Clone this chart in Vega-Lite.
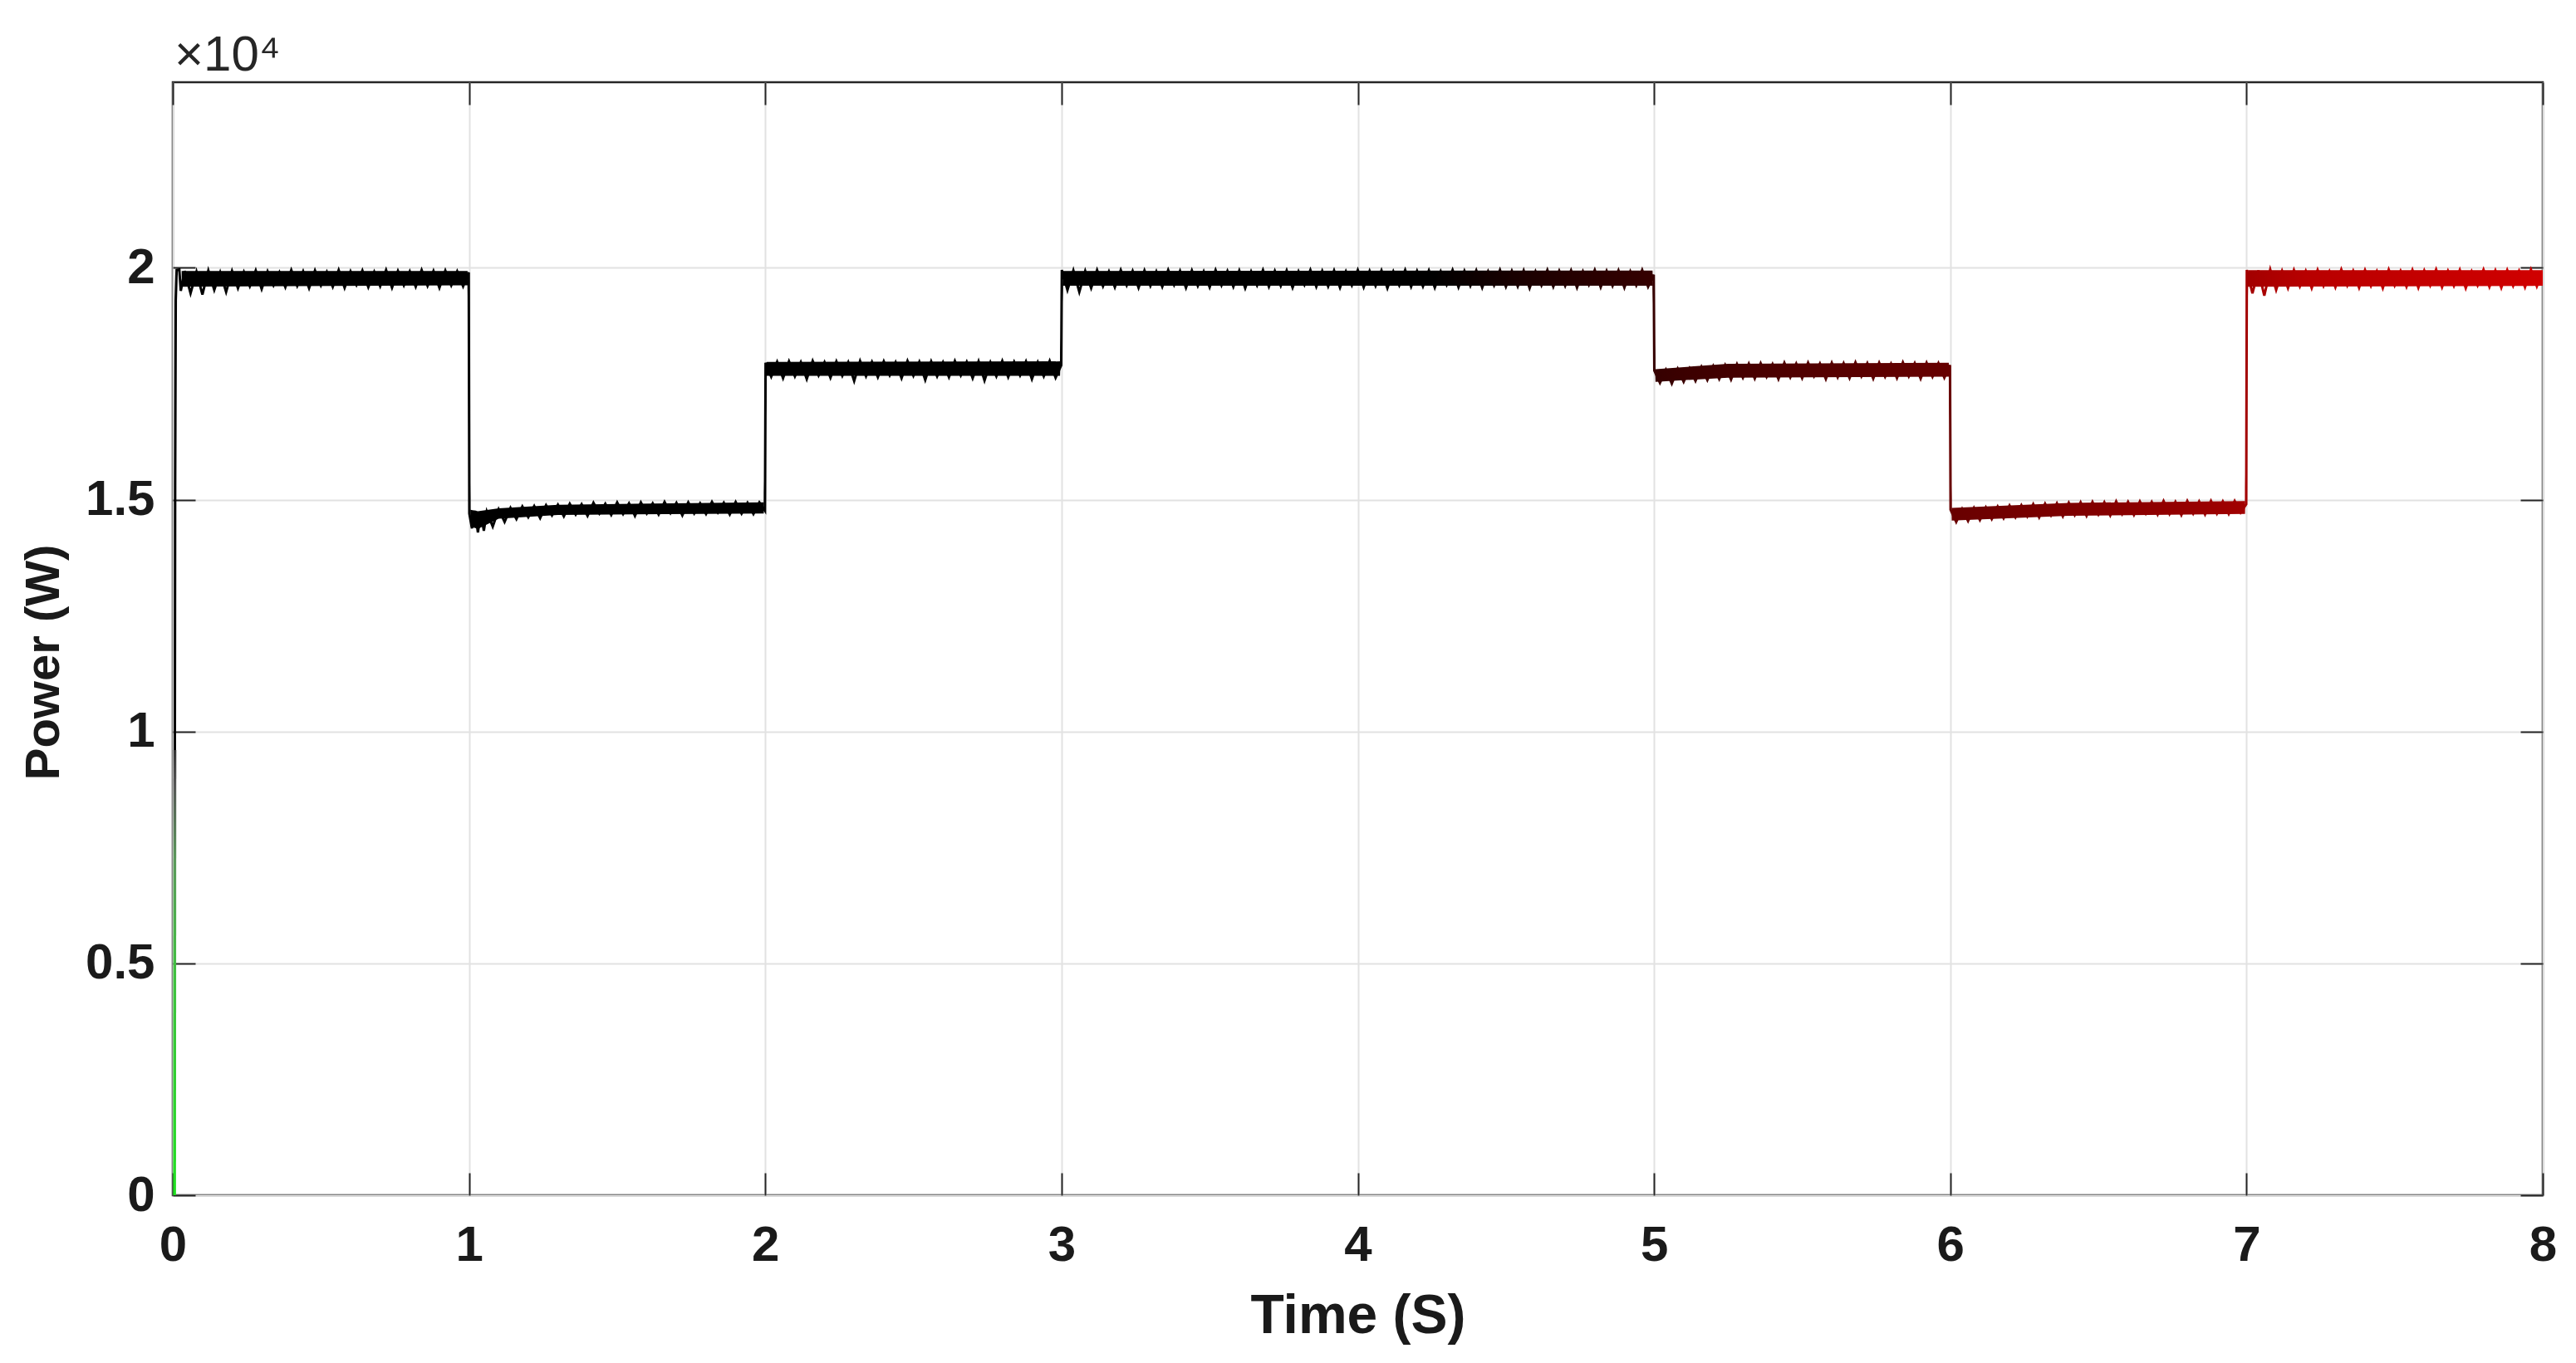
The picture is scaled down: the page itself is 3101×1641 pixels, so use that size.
{
  "$schema": "https://vega.github.io/schema/vega-lite/v6.json",
  "width": 2853,
  "height": 1340,
  "autosize": {"type": "none"},
  "padding": {"left": 208, "top": 99, "right": 40, "bottom": 202},
  "background": "white",
  "config": {
    "view": {"stroke": "#262626", "strokeWidth": 2.5},
    "axis": {
      "labelFont": "Liberation Sans",
      "titleFont": "Liberation Sans",
      "labelFontSize": 60,
      "labelFontWeight": "bold",
      "labelColor": "#1a1a1a",
      "titleFontSize": 66,
      "titleFontWeight": "bold",
      "titleColor": "#1a1a1a",
      "tickColor": "#262626",
      "tickWidth": 2,
      "gridColor": "#e2e2e2",
      "gridWidth": 2,
      "domain": false,
      "labelFlush": false,
      "labelOverlap": false
    }
  },
  "title": {
    "text": "×10⁴",
    "anchor": "start",
    "frame": "group",
    "font": "Liberation Sans",
    "fontSize": 60,
    "fontWeight": "normal",
    "color": "#262626",
    "baseline": "alphabetic",
    "offset": -47,
    "dx": 2
  },
  "datasets": {
    "init": [
      {"t": 0.006, "p": 0},
      {"t": 0.007, "p": 9600}
    ],
    "band": [
      {"t": 0.03, "lo": 19590, "hi": 19930},
      {"t": 0.995, "lo": 19620, "hi": 19930},
      {"t": 1.005, "lo": 14420, "hi": 14780},
      {"t": 1.03, "lo": 14370, "hi": 14750},
      {"t": 1.1, "lo": 14590, "hi": 14810},
      {"t": 1.3, "lo": 14670, "hi": 14890},
      {"t": 1.995, "lo": 14700, "hi": 14940},
      {"t": 2.005, "lo": 17670, "hi": 17970},
      {"t": 2.995, "lo": 17670, "hi": 17980},
      {"t": 3.005, "lo": 19610, "hi": 19930},
      {"t": 4.995, "lo": 19610, "hi": 19940},
      {"t": 5.005, "lo": 17540, "hi": 17810},
      {"t": 5.25, "lo": 17630, "hi": 17930},
      {"t": 5.995, "lo": 17650, "hi": 17950},
      {"t": 6.005, "lo": 14550, "hi": 14820},
      {"t": 6.4, "lo": 14650, "hi": 14930},
      {"t": 6.995, "lo": 14690, "hi": 14970},
      {"t": 7.005, "lo": 19590, "hi": 19950},
      {"t": 8.0, "lo": 19610, "hi": 19950}
    ],
    "sig": [
      {"t": 0.007, "p": 9600}, {"t": 0.008, "p": 15300}, {"t": 0.010, "p": 19300}, {"t": 0.013, "p": 19950}, {"t": 0.022, "p": 19960}, {"t": 0.027, "p": 19500},
      {"t": 0.04, "p": 19930}, {"t": 0.06, "p": 19450}, {"t": 0.08, "p": 19910}, {"t": 0.10, "p": 19420}, {"t": 0.12, "p": 19940}, {"t": 0.14, "p": 19520},
      {"t": 0.16, "p": 19900}, {"t": 0.18, "p": 19480}, {"t": 0.20, "p": 19930}, {"t": 0.22, "p": 19560}, {"t": 0.24, "p": 19910}, {"t": 0.26, "p": 19600},
      {"t": 0.28, "p": 19940}, {"t": 0.30, "p": 19540}, {"t": 0.32, "p": 19920}, {"t": 0.34, "p": 19620}, {"t": 0.36, "p": 19900}, {"t": 0.38, "p": 19580},
      {"t": 0.40, "p": 19950}, {"t": 0.42, "p": 19610}, {"t": 0.44, "p": 19920}, {"t": 0.46, "p": 19560}, {"t": 0.48, "p": 19940}, {"t": 0.50, "p": 19620},
      {"t": 0.52, "p": 19910}, {"t": 0.54, "p": 19590}, {"t": 0.56, "p": 19950}, {"t": 0.58, "p": 19570}, {"t": 0.60, "p": 19920}, {"t": 0.62, "p": 19630},
      {"t": 0.64, "p": 19940}, {"t": 0.66, "p": 19580}, {"t": 0.68, "p": 19910}, {"t": 0.70, "p": 19600}, {"t": 0.72, "p": 19950}, {"t": 0.74, "p": 19570},
      {"t": 0.76, "p": 19930}, {"t": 0.78, "p": 19620}, {"t": 0.80, "p": 19920}, {"t": 0.82, "p": 19590}, {"t": 0.84, "p": 19950}, {"t": 0.86, "p": 19610},
      {"t": 0.88, "p": 19930}, {"t": 0.90, "p": 19570}, {"t": 0.92, "p": 19940}, {"t": 0.94, "p": 19620}, {"t": 0.96, "p": 19920}, {"t": 0.98, "p": 19600},
      {"t": 0.999, "p": 19900}, {"t": 1.001, "p": 14700}, {"t": 1.01, "p": 14380}, {"t": 1.02, "p": 14760}, {"t": 1.03, "p": 14290}, {"t": 1.04, "p": 14720},
      {"t": 1.05, "p": 14330}, {"t": 1.06, "p": 14740}, {"t": 1.08, "p": 14420}, {"t": 1.10, "p": 14790}, {"t": 1.12, "p": 14520}, {"t": 1.14, "p": 14820},
      {"t": 1.16, "p": 14580}, {"t": 1.18, "p": 14850}, {"t": 1.20, "p": 14620}, {"t": 1.22, "p": 14860}, {"t": 1.24, "p": 14600}, {"t": 1.26, "p": 14880},
      {"t": 1.28, "p": 14660}, {"t": 1.30, "p": 14890}, {"t": 1.32, "p": 14640}, {"t": 1.34, "p": 14910}, {"t": 1.36, "p": 14680}, {"t": 1.38, "p": 14900},
      {"t": 1.40, "p": 14650}, {"t": 1.42, "p": 14930}, {"t": 1.44, "p": 14700}, {"t": 1.46, "p": 14910}, {"t": 1.48, "p": 14670}, {"t": 1.50, "p": 14940},
      {"t": 1.52, "p": 14690}, {"t": 1.54, "p": 14920}, {"t": 1.56, "p": 14650}, {"t": 1.58, "p": 14940}, {"t": 1.60, "p": 14700}, {"t": 1.62, "p": 14920},
      {"t": 1.64, "p": 14680}, {"t": 1.66, "p": 14950}, {"t": 1.68, "p": 14710}, {"t": 1.70, "p": 14930}, {"t": 1.72, "p": 14660}, {"t": 1.74, "p": 14940},
      {"t": 1.76, "p": 14700}, {"t": 1.78, "p": 14920}, {"t": 1.80, "p": 14690}, {"t": 1.82, "p": 14950}, {"t": 1.84, "p": 14720}, {"t": 1.86, "p": 14930},
      {"t": 1.88, "p": 14680}, {"t": 1.90, "p": 14950}, {"t": 1.92, "p": 14700}, {"t": 1.94, "p": 14930}, {"t": 1.96, "p": 14690}, {"t": 1.98, "p": 14940},
      {"t": 1.999, "p": 14760}, {"t": 2.001, "p": 17950}, {"t": 2.02, "p": 17650}, {"t": 2.04, "p": 17970}, {"t": 2.06, "p": 17620}, {"t": 2.08, "p": 17980},
      {"t": 2.10, "p": 17660}, {"t": 2.12, "p": 17960}, {"t": 2.14, "p": 17600}, {"t": 2.16, "p": 17990}, {"t": 2.18, "p": 17680}, {"t": 2.20, "p": 17960},
      {"t": 2.22, "p": 17630}, {"t": 2.24, "p": 17980}, {"t": 2.26, "p": 17670}, {"t": 2.28, "p": 17960}, {"t": 2.30, "p": 17560}, {"t": 2.32, "p": 17990},
      {"t": 2.34, "p": 17660}, {"t": 2.36, "p": 17970}, {"t": 2.38, "p": 17640}, {"t": 2.40, "p": 17980}, {"t": 2.42, "p": 17680}, {"t": 2.44, "p": 17960},
      {"t": 2.46, "p": 17620}, {"t": 2.48, "p": 17990}, {"t": 2.50, "p": 17670}, {"t": 2.52, "p": 17970}, {"t": 2.54, "p": 17580}, {"t": 2.56, "p": 17980},
      {"t": 2.58, "p": 17660}, {"t": 2.60, "p": 17960}, {"t": 2.62, "p": 17640}, {"t": 2.64, "p": 17990}, {"t": 2.66, "p": 17680}, {"t": 2.68, "p": 17970},
      {"t": 2.70, "p": 17620}, {"t": 2.72, "p": 17980}, {"t": 2.74, "p": 17570}, {"t": 2.76, "p": 17960}, {"t": 2.78, "p": 17660}, {"t": 2.80, "p": 17990},
      {"t": 2.82, "p": 17640}, {"t": 2.84, "p": 17970}, {"t": 2.86, "p": 17680}, {"t": 2.88, "p": 17980}, {"t": 2.90, "p": 17600}, {"t": 2.92, "p": 17960},
      {"t": 2.94, "p": 17660}, {"t": 2.96, "p": 17990}, {"t": 2.98, "p": 17630}, {"t": 2.999, "p": 17900}, {"t": 3.001, "p": 19950}, {"t": 3.02, "p": 19520},
      {"t": 3.04, "p": 19940}, {"t": 3.06, "p": 19480}, {"t": 3.08, "p": 19930}, {"t": 3.10, "p": 19560}, {"t": 3.12, "p": 19950}, {"t": 3.14, "p": 19600},
      {"t": 3.16, "p": 19920}, {"t": 3.18, "p": 19580}, {"t": 3.20, "p": 19950}, {"t": 3.22, "p": 19620}, {"t": 3.24, "p": 19930}, {"t": 3.26, "p": 19570},
      {"t": 3.28, "p": 19940}, {"t": 3.30, "p": 19610}, {"t": 3.32, "p": 19920}, {"t": 3.34, "p": 19590}, {"t": 3.36, "p": 19950}, {"t": 3.38, "p": 19630},
      {"t": 3.40, "p": 19930}, {"t": 3.42, "p": 19570}, {"t": 3.44, "p": 19940}, {"t": 3.46, "p": 19610}, {"t": 3.48, "p": 19920}, {"t": 3.50, "p": 19580},
      {"t": 3.52, "p": 19950}, {"t": 3.54, "p": 19620}, {"t": 3.56, "p": 19930}, {"t": 3.58, "p": 19590}, {"t": 3.60, "p": 19940}, {"t": 3.62, "p": 19560},
      {"t": 3.64, "p": 19920}, {"t": 3.66, "p": 19620}, {"t": 3.68, "p": 19950}, {"t": 3.70, "p": 19590}, {"t": 3.72, "p": 19930}, {"t": 3.74, "p": 19610},
      {"t": 3.76, "p": 19940}, {"t": 3.78, "p": 19570}, {"t": 3.80, "p": 19920}, {"t": 3.82, "p": 19630}, {"t": 3.84, "p": 19950}, {"t": 3.86, "p": 19590},
      {"t": 3.88, "p": 19930}, {"t": 3.90, "p": 19600}, {"t": 3.92, "p": 19940}, {"t": 3.94, "p": 19570}, {"t": 3.96, "p": 19920}, {"t": 3.98, "p": 19620},
      {"t": 4.00, "p": 19950}, {"t": 4.02, "p": 19580}, {"t": 4.04, "p": 19930}, {"t": 4.06, "p": 19610}, {"t": 4.08, "p": 19940}, {"t": 4.10, "p": 19560},
      {"t": 4.12, "p": 19920}, {"t": 4.14, "p": 19620}, {"t": 4.16, "p": 19950}, {"t": 4.18, "p": 19590}, {"t": 4.20, "p": 19930}, {"t": 4.22, "p": 19600},
      {"t": 4.24, "p": 19940}, {"t": 4.26, "p": 19570}, {"t": 4.28, "p": 19920}, {"t": 4.30, "p": 19630}, {"t": 4.32, "p": 19950}, {"t": 4.34, "p": 19580},
      {"t": 4.36, "p": 19930}, {"t": 4.38, "p": 19610}, {"t": 4.40, "p": 19940}, {"t": 4.42, "p": 19570}, {"t": 4.44, "p": 19920}, {"t": 4.46, "p": 19620},
      {"t": 4.48, "p": 19950}, {"t": 4.50, "p": 19590}, {"t": 4.52, "p": 19930}, {"t": 4.54, "p": 19600}, {"t": 4.56, "p": 19940}, {"t": 4.58, "p": 19560},
      {"t": 4.60, "p": 19920}, {"t": 4.62, "p": 19620}, {"t": 4.64, "p": 19950}, {"t": 4.66, "p": 19590}, {"t": 4.68, "p": 19930}, {"t": 4.70, "p": 19610},
      {"t": 4.72, "p": 19940}, {"t": 4.74, "p": 19570}, {"t": 4.76, "p": 19920}, {"t": 4.78, "p": 19630}, {"t": 4.80, "p": 19950}, {"t": 4.82, "p": 19580},
      {"t": 4.84, "p": 19930}, {"t": 4.86, "p": 19610}, {"t": 4.88, "p": 19940}, {"t": 4.90, "p": 19570}, {"t": 4.92, "p": 19920}, {"t": 4.94, "p": 19620},
      {"t": 4.96, "p": 19950}, {"t": 4.98, "p": 19590}, {"t": 4.999, "p": 19850}, {"t": 5.001, "p": 17780}, {"t": 5.02, "p": 17520}, {"t": 5.04, "p": 17800},
      {"t": 5.06, "p": 17500}, {"t": 5.08, "p": 17820}, {"t": 5.10, "p": 17540}, {"t": 5.12, "p": 17830}, {"t": 5.14, "p": 17560}, {"t": 5.16, "p": 17860},
      {"t": 5.18, "p": 17580}, {"t": 5.20, "p": 17880}, {"t": 5.22, "p": 17600}, {"t": 5.24, "p": 17900}, {"t": 5.26, "p": 17590}, {"t": 5.28, "p": 17920},
      {"t": 5.30, "p": 17630}, {"t": 5.32, "p": 17930}, {"t": 5.34, "p": 17610}, {"t": 5.36, "p": 17940}, {"t": 5.38, "p": 17650}, {"t": 5.40, "p": 17920},
      {"t": 5.42, "p": 17600}, {"t": 5.44, "p": 17950}, {"t": 5.46, "p": 17640}, {"t": 5.48, "p": 17930}, {"t": 5.50, "p": 17620}, {"t": 5.52, "p": 17950},
      {"t": 5.54, "p": 17660}, {"t": 5.56, "p": 17930}, {"t": 5.58, "p": 17600}, {"t": 5.60, "p": 17950}, {"t": 5.62, "p": 17640}, {"t": 5.64, "p": 17940},
      {"t": 5.66, "p": 17620}, {"t": 5.68, "p": 17960}, {"t": 5.70, "p": 17660}, {"t": 5.72, "p": 17940}, {"t": 5.74, "p": 17610}, {"t": 5.76, "p": 17950},
      {"t": 5.78, "p": 17650}, {"t": 5.80, "p": 17930}, {"t": 5.82, "p": 17620}, {"t": 5.84, "p": 17960}, {"t": 5.86, "p": 17660}, {"t": 5.88, "p": 17940},
      {"t": 5.90, "p": 17610}, {"t": 5.92, "p": 17950}, {"t": 5.94, "p": 17650}, {"t": 5.96, "p": 17940}, {"t": 5.98, "p": 17630}, {"t": 5.999, "p": 17900},
      {"t": 6.001, "p": 14780}, {"t": 6.02, "p": 14520}, {"t": 6.04, "p": 14800}, {"t": 6.06, "p": 14540}, {"t": 6.08, "p": 14820}, {"t": 6.10, "p": 14560},
      {"t": 6.12, "p": 14830}, {"t": 6.14, "p": 14580}, {"t": 6.16, "p": 14850}, {"t": 6.18, "p": 14600}, {"t": 6.20, "p": 14870}, {"t": 6.22, "p": 14620},
      {"t": 6.24, "p": 14880}, {"t": 6.26, "p": 14640}, {"t": 6.28, "p": 14900}, {"t": 6.30, "p": 14620}, {"t": 6.32, "p": 14910}, {"t": 6.34, "p": 14660},
      {"t": 6.36, "p": 14920}, {"t": 6.38, "p": 14640}, {"t": 6.40, "p": 14930}, {"t": 6.42, "p": 14670}, {"t": 6.44, "p": 14940}, {"t": 6.46, "p": 14650},
      {"t": 6.48, "p": 14950}, {"t": 6.50, "p": 14680}, {"t": 6.52, "p": 14940}, {"t": 6.54, "p": 14660}, {"t": 6.56, "p": 14960}, {"t": 6.58, "p": 14690},
      {"t": 6.60, "p": 14950}, {"t": 6.62, "p": 14670}, {"t": 6.64, "p": 14960}, {"t": 6.66, "p": 14700}, {"t": 6.68, "p": 14950}, {"t": 6.70, "p": 14680},
      {"t": 6.72, "p": 14970}, {"t": 6.74, "p": 14690}, {"t": 6.76, "p": 14950}, {"t": 6.78, "p": 14670}, {"t": 6.80, "p": 14970}, {"t": 6.82, "p": 14700},
      {"t": 6.84, "p": 14960}, {"t": 6.86, "p": 14680}, {"t": 6.88, "p": 14970}, {"t": 6.90, "p": 14700}, {"t": 6.92, "p": 14960}, {"t": 6.94, "p": 14690},
      {"t": 6.96, "p": 14970}, {"t": 6.98, "p": 14720}, {"t": 6.999, "p": 14900}, {"t": 7.001, "p": 19950}, {"t": 7.02, "p": 19450}, {"t": 7.04, "p": 19940},
      {"t": 7.06, "p": 19400}, {"t": 7.08, "p": 19960}, {"t": 7.10, "p": 19520}, {"t": 7.12, "p": 19930}, {"t": 7.14, "p": 19560}, {"t": 7.16, "p": 19950},
      {"t": 7.18, "p": 19600}, {"t": 7.20, "p": 19930}, {"t": 7.22, "p": 19560}, {"t": 7.24, "p": 19950}, {"t": 7.26, "p": 19610}, {"t": 7.28, "p": 19920},
      {"t": 7.30, "p": 19580}, {"t": 7.32, "p": 19960}, {"t": 7.34, "p": 19620}, {"t": 7.36, "p": 19930}, {"t": 7.38, "p": 19570}, {"t": 7.40, "p": 19950},
      {"t": 7.42, "p": 19610}, {"t": 7.44, "p": 19920}, {"t": 7.46, "p": 19560}, {"t": 7.48, "p": 19960}, {"t": 7.50, "p": 19620}, {"t": 7.52, "p": 19930},
      {"t": 7.54, "p": 19590}, {"t": 7.56, "p": 19950}, {"t": 7.58, "p": 19570}, {"t": 7.60, "p": 19940}, {"t": 7.62, "p": 19620}, {"t": 7.64, "p": 19960},
      {"t": 7.66, "p": 19580}, {"t": 7.68, "p": 19930}, {"t": 7.70, "p": 19610}, {"t": 7.72, "p": 19950}, {"t": 7.74, "p": 19560}, {"t": 7.76, "p": 19920},
      {"t": 7.78, "p": 19620}, {"t": 7.80, "p": 19960}, {"t": 7.82, "p": 19590}, {"t": 7.84, "p": 19940}, {"t": 7.86, "p": 19570}, {"t": 7.88, "p": 19950},
      {"t": 7.90, "p": 19610}, {"t": 7.92, "p": 19930}, {"t": 7.94, "p": 19580}, {"t": 7.96, "p": 19960}, {"t": 7.98, "p": 19600}, {"t": 8.0, "p": 19930}
    ]
  },
  "layer": [
    {
      "data": {"name": "band"},
      "mark": {
        "type": "area",
        "clip": true,
        "fill": {
          "gradient": "linear", "x1": 0, "y1": 0, "x2": 1, "y2": 0,
          "stops": [
            {"offset": 0, "color": "#000000"},
            {"offset": 0.53, "color": "#000000"},
            {"offset": 0.57, "color": "#1c0000"},
            {"offset": 0.625, "color": "#360000"},
            {"offset": 0.69, "color": "#520000"},
            {"offset": 0.75, "color": "#680000"},
            {"offset": 0.81, "color": "#820000"},
            {"offset": 0.872, "color": "#a00000"},
            {"offset": 0.9, "color": "#b80000"},
            {"offset": 1, "color": "#d00000"}
          ]
        }
      },
      "encoding": {
        "x": {
          "field": "t", "type": "quantitative",
          "scale": {"domain": [0, 8], "nice": false, "zero": false},
          "axis": {
            "orient": "bottom", "values": [0, 1, 2, 3, 4, 5, 6, 7, 8],
            "title": "Time (S)", "grid": true, "tickSize": -27,
            "labelPadding": 58, "titlePadding": 23
          }
        },
        "y": {
          "field": "lo", "type": "quantitative",
          "scale": {"domain": [0, 24000], "nice": false},
          "axis": {
            "orient": "left", "values": [0, 5000, 10000, 15000, 20000],
            "labelExpr": "datum.value / 10000",
            "title": "Power (W)", "grid": true, "tickSize": -27,
            "titleFontSize": 58, "titleY": 698,
            "labelPadding": 49, "titlePadding": 20
          }
        },
        "y2": {"field": "hi"}
      }
    },
    {
      "data": {"name": "sig"},
      "mark": {
        "type": "line",
        "clip": true,
        "strokeWidth": 3,
        "stroke": {
          "gradient": "linear", "x1": 0, "y1": 0, "x2": 1, "y2": 0,
          "stops": [
            {"offset": 0, "color": "#000000"},
            {"offset": 0.53, "color": "#000000"},
            {"offset": 0.57, "color": "#1c0000"},
            {"offset": 0.625, "color": "#360000"},
            {"offset": 0.69, "color": "#520000"},
            {"offset": 0.75, "color": "#680000"},
            {"offset": 0.81, "color": "#820000"},
            {"offset": 0.872, "color": "#a00000"},
            {"offset": 0.9, "color": "#b80000"},
            {"offset": 1, "color": "#d00000"}
          ]
        }
      },
      "encoding": {
        "x": {
          "field": "t", "type": "quantitative",
          "axis": {
            "orient": "top", "values": [0, 1, 2, 3, 4, 5, 6, 7, 8],
            "labels": false, "title": null, "grid": false, "tickSize": -27
          }
        },
        "y": {
          "field": "p", "type": "quantitative",
          "axis": {
            "orient": "right", "values": [0, 5000, 10000, 15000, 20000],
            "labels": false, "title": null, "grid": false, "tickSize": -27
          }
        }
      }
    },
    {
      "data": {"name": "init"},
      "mark": {
        "type": "line",
        "clip": true,
        "strokeWidth": 3.5,
        "stroke": {
          "gradient": "linear", "x1": 0, "y1": 1, "x2": 0, "y2": 0,
          "stops": [
            {"offset": 0, "color": "#20e020"},
            {"offset": 0.5, "color": "#40c040"},
            {"offset": 0.75, "color": "#5a9a5a"},
            {"offset": 0.92, "color": "#555555"},
            {"offset": 1, "color": "#333333"}
          ]
        }
      },
      "encoding": {
        "x": {"field": "t", "type": "quantitative", "axis": null},
        "y": {"field": "p", "type": "quantitative", "axis": null}
      }
    }
  ],
  "resolve": {"axis": {"x": "independent", "y": "independent"}}
}
